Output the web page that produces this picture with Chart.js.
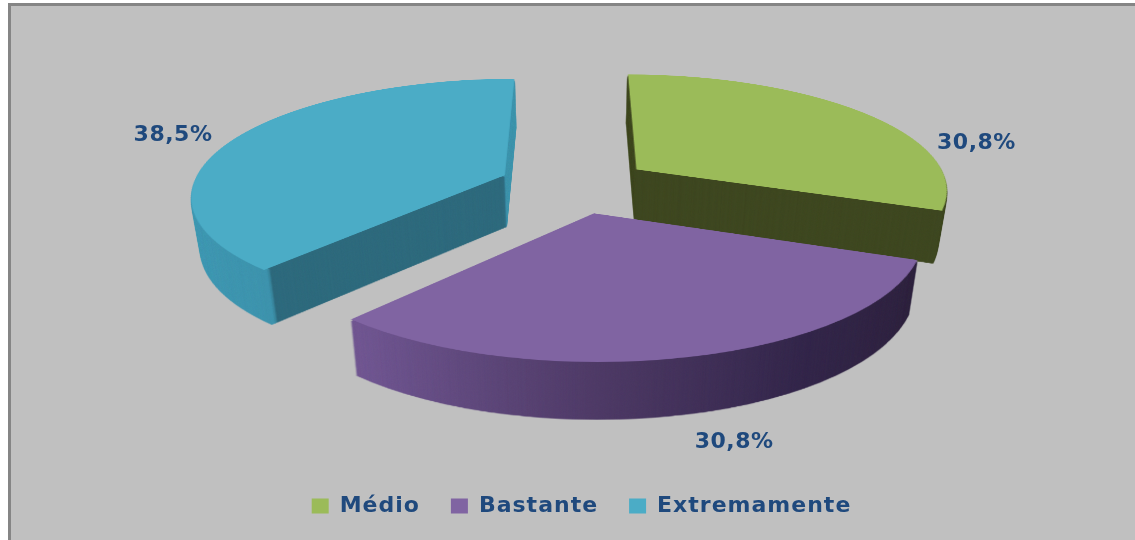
<!DOCTYPE html>
<html>
<head>
<meta charset="utf-8">
<style>html,body{margin:0;padding:0;background:#fff}canvas{display:block}</style>
<script src="https://cdn.jsdelivr.net/npm/chart.js@4/dist/chart.umd.js"></script>
</head>
<body>
<canvas id="pie" width="1135" height="540"></canvas>
<script>
// Satisfaction shares shown as an exploded, tilted pie
const categories = ['Médio', 'Bastante', 'Extremamente'];
const shares = [30.8, 30.8, 38.5];
const topColors = ['#9BBB59', '#8064A2', '#4BACC6'];

// Side shading per slice: face at the start edge, face at the end edge, rim gradient stops
const sideStyles = [
  { startFace: '#3E4720', endFace: '#3E4720', rim: [[0, '#3E4720'], [1, '#3E4720']] },
  { startFace: '#2F2340', endFace: '#6A5186', rim: [[0, '#7A5C98'], [0.22, '#6F5590'], [0.5, '#4E3A66'], [0.75, '#33264A'], [1, '#2C2039']] },
  { startFace: '#2E6A7D', endFace: '#3C93AD', rim: [[0, '#4099B4'], [0.3, '#3C90A9'], [1, '#3C93AD']] }
];
const labelNudges = [[114.5, 31], [44, 85], [-63, -2]];
const drawOrder = [0, 2, 1];

// Projection of the flat pie onto the page
const view = { cx: 575, cy: 185, radius: 312, squash: 0.368, perspective: 0.16, explode: 0.244,
               depth: 52, depthInset: 0.025, depthStretch: 0.032, steps: 104, flatSize: 840 };

function makeLayer(w, h) {
  const c = document.createElement('canvas');
  c.width = w; c.height = h;
  return c;
}

// Redraws flat artwork row by row, so the far side of the disc shrinks and the near side grows
function warp(flat) {
  const out = makeLayer(1135, 540);
  const g = out.getContext('2d');
  const half = view.flatSize / 2;
  const toFlat = y => {
    const v = (y - view.cy) / (view.radius * view.squash);
    return v / (1 + view.perspective * v);
  };
  for (let y = 0; y < 540; y++) {
    const a = toFlat(y), b = toFlat(y + 1);
    const sy = half + a * view.radius, sh = (b - a) * view.radius;
    if (sy < 0 || sy + sh > view.flatSize) continue;
    const s = 1 / (1 - view.perspective * (a + b) / 2);
    g.drawImage(flat, 0, sy, view.flatSize, sh, view.cx - half * s, y, view.flatSize * s, 1);
  }
  return out;
}

function arcPiece(el, props, options) {
  return new Chart.ArcElement(Object.assign({
    x: el.x, y: el.y, startAngle: el.startAngle, endAngle: el.endAngle,
    innerRadius: 0, outerRadius: el.outerRadius, circumference: el.endAngle - el.startAngle
  }, props, { options: Object.assign({}, el.options, options) }));
}

function flatLayer(el, paint) {
  const c = makeLayer(view.flatSize, view.flatSize);
  const g = c.getContext('2d');
  const f = view.radius / el.outerRadius;
  const mid = (el.startAngle + el.endAngle) / 2;
  g.translate(view.flatSize / 2, view.flatSize / 2);
  g.scale(f, f);
  g.translate(Math.cos(mid) * view.explode * el.outerRadius, Math.sin(mid) * view.explode * el.outerRadius);
  g.translate(-el.x, -el.y);
  paint(g);
  return c;
}

function project(X, Y) {
  const s = 1 / (1 - view.perspective * Y);
  return { x: view.cx + view.radius * X * s, y: view.cy + view.radius * view.squash * Y * s };
}

const pie3d = {
  id: 'pie3d',
  beforeLayout(chart) { chart.ctx.letterSpacing = '1px'; },
  beforeDraw(chart) {
    const c = chart.ctx;
    c.save();
    c.fillStyle = '#FFFFFF'; c.fillRect(0, 0, 1135, 540);
    c.fillStyle = '#858585'; c.fillRect(8, 3, 1127, 537);
    c.fillStyle = '#C0C0C0'; c.fillRect(11, 6, 1124, 534);
    c.restore();
  },
  beforeDatasetsDraw(chart) {
    const c = chart.ctx;
    const arcs = chart.getDatasetMeta(0).data;
    c.save();
    drawOrder.forEach(i => {
      const el = arcs[i], style = sideStyles[i], mid = (el.startAngle + el.endAngle) / 2;
      const band = el.outerRadius * 0.02;
      const side = warp(flatLayer(el, g => {
        // The flat faces stop short of the rim, so only rim colour reaches the outer edge
        const faceRadius = el.outerRadius - band / 2;
        arcPiece(el, { outerRadius: faceRadius, endAngle: mid, circumference: mid - el.startAngle },
                 { backgroundColor: style.startFace, borderWidth: 0 }).draw(g);
        arcPiece(el, { outerRadius: faceRadius, startAngle: mid, circumference: el.endAngle - mid },
                 { backgroundColor: style.endFace, borderWidth: 0 }).draw(g);
        const grad = g.createLinearGradient(el.x - el.outerRadius * 1.1, 0, el.x + el.outerRadius * 1.1, 0);
        style.rim.forEach(([p, col]) => grad.addColorStop(p, col));
        arcPiece(el, { innerRadius: el.outerRadius - band }, { backgroundColor: grad, borderWidth: 0 }).draw(g);
      }));

      // Extrude the slice: copies go in top-down, each one slipped behind those already placed.
      // The first copy starts just below the top face so no dark fringe shows along its edge.
      const stack = makeLayer(1135, 540);
      const s = stack.getContext('2d');
      s.globalCompositeOperation = 'destination-over';
      for (let n = 3; n <= view.steps; n++) {
        const t = n / view.steps;
        const sx = 1 - view.depthInset * t, sy = 1 + view.depthStretch * t;
        s.setTransform(sx, 0, 0, sy, view.cx * (1 - sx), view.cy * (1 - sy) + view.depth * t);
        s.drawImage(side, 0, 0);
      }
      c.drawImage(stack, 0, 0);

      const top = warp(flatLayer(el, g => {
        arcPiece(el, {}, { backgroundColor: topColors[i], borderWidth: 0 }).draw(g);
      }));
      c.drawImage(top, 0, 0);
    });
    c.restore();

    // Percentage labels, anchored on each slice's outer edge
    c.save();
    c.font = 'bold 22px "DejaVu Sans"';
    c.letterSpacing = '0.5px';
    c.fillStyle = '#1F497D';
    c.textAlign = 'center';
    c.textBaseline = 'middle';
    arcs.forEach((el, i) => {
      const mid = (el.startAngle + el.endAngle) / 2;
      const r = 1 + view.explode;
      const p = project(Math.cos(mid) * r, Math.sin(mid) * r);
      const text = shares[i].toFixed(1).replace('.', ',') + '%';
      c.fillText(text, p.x + labelNudges[i][0], p.y + labelNudges[i][1]);
    });
    c.restore();
    return false;
  }
};

new Chart(document.getElementById('pie'), {
  type: 'pie',
  data: {
    labels: categories,
    datasets: [{ data: shares, backgroundColor: topColors, borderWidth: 0 }]
  },
  plugins: [pie3d],
  options: {
    responsive: false,
    animation: false,
    layout: { padding: { left: 28, bottom: 13 } },
    plugins: {
      tooltip: { enabled: false },
      legend: {
        position: 'bottom',
        labels: {
          boxWidth: 17, boxHeight: 15, padding: 31,
          color: '#1F497D',
          font: { family: '"DejaVu Sans"', size: 22, weight: 'bold' }
        }
      }
    }
  }
});
</script>
</body>
</html>
